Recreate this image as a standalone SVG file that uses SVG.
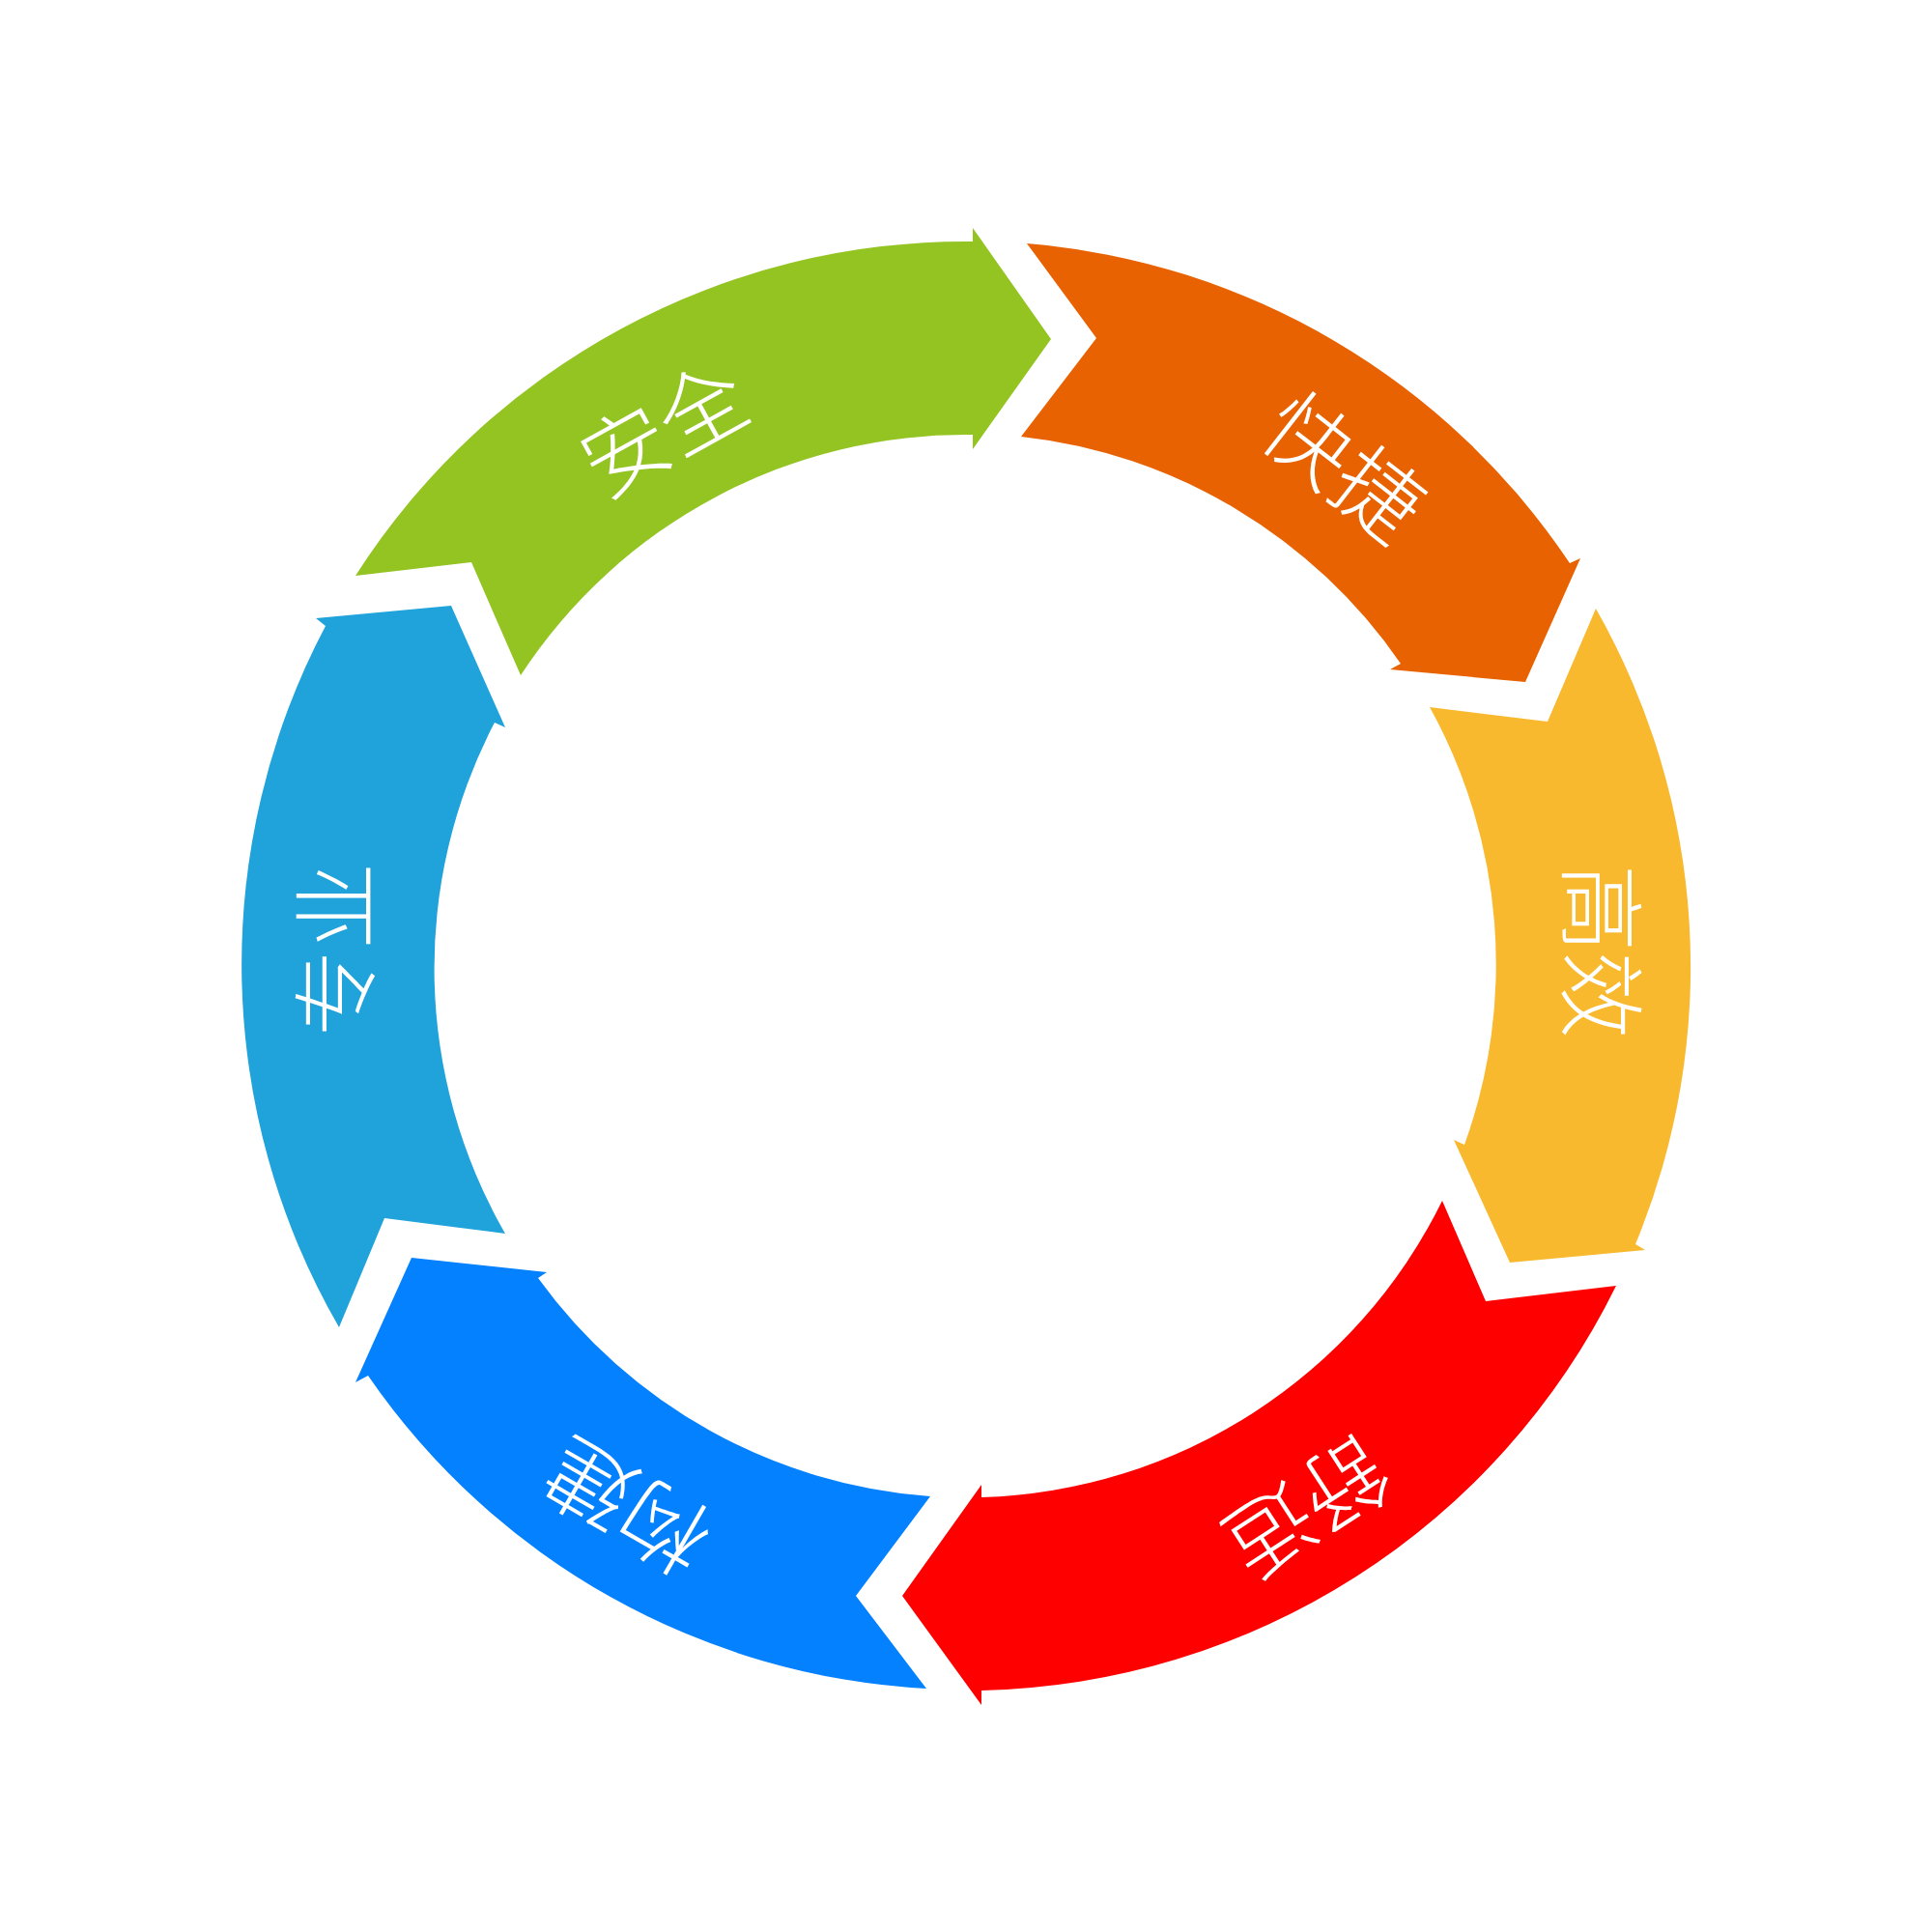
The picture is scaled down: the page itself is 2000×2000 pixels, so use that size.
<svg xmlns="http://www.w3.org/2000/svg" width="2000" height="2000" viewBox="0 0 2000 2000">
<style>
.lbl{font-family:"Noto Sans CJK SC","Noto Sans CJK JP",sans-serif;font-size:90px;font-weight:300;fill:#ffffff;text-anchor:middle;dominant-baseline:central}
</style>
<rect width="2000" height="2000" fill="#ffffff"/>
<g id="connectors"/>
<g id="node-anquan">
<path fill="#93C422" d="M368,596 A750,750 0 0 1 1007,250 L1007,236 L1088,351 L1007,465 L1007,450 A550,550 0 0 0 539,699 L488,582 Z"/>
<text class="lbl" transform="translate(684,440) rotate(-29)">安全</text>
</g>
<g id="node-kuaijie">
<path fill="#E86201" d="M1063,252 A750,750 0 0 1 1625,583 L1636,578 L1579,706 L1439,693 L1450,687 A550,550 0 0 0 1057,452 L1135,350 Z"/>
<text class="lbl" transform="translate(1395,479) rotate(38)">快捷</text>
</g>
<g id="node-gaoxiao">
<path fill="#F9B92E" d="M1652,630 A750,750 0 0 1 1693,1288 L1703,1294 L1563,1307 L1505,1180 L1516,1185 A550,550 0 0 0 1480,732 L1602,747 Z"/>
<text class="lbl" transform="translate(1663,985) rotate(90)">高效</text>
</g>
<g id="node-shushi">
<path fill="#FF0000" d="M1673,1331 A750,750 0 0 1 1016,1750 L1016,1765 L934,1652 L1016,1537 L1016,1550 A550,550 0 0 0 1493,1243 L1538,1347 Z"/>
<text class="lbl" transform="translate(1356,1565) rotate(147)">舒适</text>
</g>
<g id="node-goujian">
<path fill="#0481FF" d="M959,1748 A750,750 0 0 1 381,1424 L368,1431 L426,1302 L566,1317 L557,1323 A550,550 0 0 0 963,1549 L886,1652 Z"/>
<text class="lbl" transform="translate(647,1564) rotate(210)">构建</text>
</g>
<g id="node-zhuanye">
<path fill="#1FA3DA" d="M351,1374 A750,750 0 0 1 337,648 L327,640 L467,627 L523,753 L512,748 A550,550 0 0 0 523,1277 L398,1261 Z"/>
<text class="lbl" transform="translate(342,983) rotate(-90)">专业</text>
</g>
</svg>
